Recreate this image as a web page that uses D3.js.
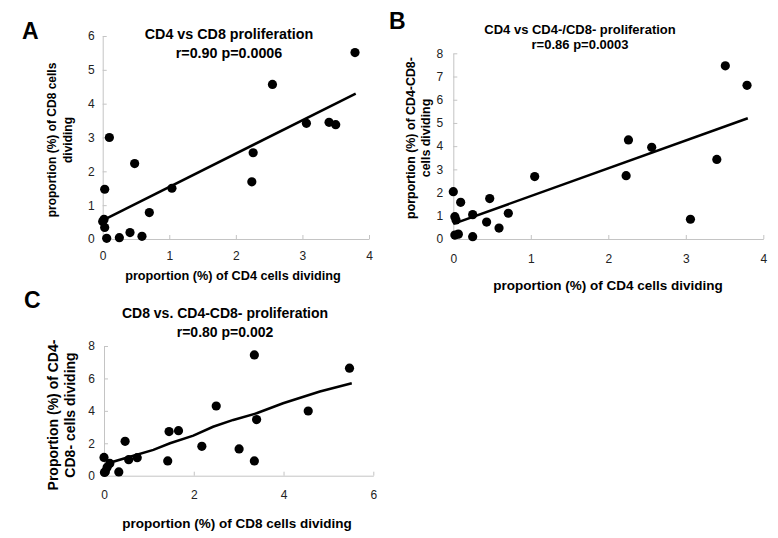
<!DOCTYPE html>
<html>
<head>
<meta charset="utf-8">
<script src="https://cdn.jsdelivr.net/npm/d3@7"></script>
<style>
  body { margin: 0; background: #fff; }
  svg { font-family: "Liberation Sans", Arial, sans-serif; }
  .axis path, .axis line { stroke: #c4c4c4; }
  .axis text { font-size: 12px; fill: #222; }
</style>
</head>
<body>
<svg class="canvas" width="778" height="538"></svg>
<script>
// panel A: CD4 vs CD8
const aCd4 = [3.79, 2.55, 3.06, 3.40, 3.50, 2.26, 2.24, 1.04, 0.70, 0.48, 0.10, 0.03, 0.02, 0.00, 0.03, 0.06, 0.25, 0.41, 0.59];
const aCd8 = [5.51, 4.57, 3.42, 3.45, 3.38, 2.55, 1.69, 1.50, 0.78, 2.23, 3.00, 1.47, 0.58, 0.52, 0.34, 0.02, 0.04, 0.19, 0.08];
const aTrendX = [0, 3.8];
const aTrendY = [0.55, 4.3];

// panel B: CD4 vs CD4-/CD8-
const bCd4 = [0.00, 0.02, 0.035, 0.02, 0.065, 0.095, 0.25, 0.25, 0.43, 0.47, 0.59, 0.71, 1.05, 2.23, 2.26, 2.56, 3.06, 3.40, 3.51, 3.79];
const bDn = [2.04, 0.96, 0.82, 0.17, 0.21, 1.58, 1.05, 0.10, 0.73, 1.74, 0.47, 1.11, 2.69, 2.73, 4.27, 3.95, 0.85, 3.43, 7.46, 6.62];
const bTrendX = [0, 3.8];
const bTrendY = [0.65, 5.2];

// panel C: CD8 vs CD4-CD8-
const cCd8 = [0.00, 0.01, 0.03, 0.07, 0.13, 0.33, 0.47, 0.55, 0.74, 1.42, 1.45, 1.66, 2.18, 2.50, 3.01, 3.35, 3.35, 3.40, 4.55, 5.47];
const cDn = [1.13, 0.20, 0.25, 0.52, 0.76, 0.23, 2.12, 0.99, 1.11, 0.91, 2.72, 2.78, 1.81, 4.30, 1.65, 0.91, 7.45, 3.46, 3.99, 6.63];
const cTrendX = [0, 0.13, 0.54, 1.10, 1.47, 1.99, 2.43, 2.88, 3.40, 3.99, 4.81, 5.52];
const cTrendY = [0.52, 0.8, 1.14, 1.59, 2.0, 2.47, 3.02, 3.44, 3.85, 4.47, 5.19, 5.70];

// tick values
const aXTicks = [0, 1, 2, 3, 4], aYTicks = [0, 1, 2, 3, 4, 5, 6];
const bXTicks = [0, 1, 2, 3, 4], bYTicks = [0, 1, 2, 3, 4, 5, 6, 7, 8];
const cXTicks = [0, 2, 4, 6], cYTicks = [0, 2, 4, 6, 8];

const svg = d3.select('.canvas');

const panels = [
  {
    letter: 'A', letterPos: [22, 39],
    xs: aCd4, ys: aCd8, tx: aTrendX, ty: aTrendY,
    xDomain: [0, 4], yDomain: [0, 6], xTicks: aXTicks, yTicks: aYTicks,
    x0: 102.7, x1: 369, y0: 239, y1: 36,
    xPad: 12, yPad: 8,
    title: ['CD4 vs CD8 proliferation', 'r=0.90 p=0.0006'], titleX: 229, titleY: [39, 58], titleSize: 14.3,
    xLabel: 'proportion (%) of CD4 cells dividing', xLabelPos: [233, 280], xLabelSize: 12.7,
    yLabel: ['proportion (%) of CD8 cells', 'dividing'], yLabelX: [56, 72], yLabelY: 140, yLabelSize: 12
  },
  {
    letter: 'B', letterPos: [389, 29],
    xs: bCd4, ys: bDn, tx: bTrendX, ty: bTrendY,
    xDomain: [0, 4], yDomain: [0, 8], xTicks: bXTicks, yTicks: bYTicks,
    x0: 453.3, x1: 763.3, y0: 239, y1: 53.3,
    xPad: 15, yPad: 10,
    title: ['CD4 vs CD4-/CD8- proliferation', 'r=0.86 p=0.0003'], titleX: 580, titleY: [34, 48.5], titleSize: 13,
    xLabel: 'proportion (%) of CD4 cells dividing', xLabelPos: [608, 290], xLabelSize: 13.5,
    yLabel: ['porportion (%) of CD4-CD8-', 'cells dividing'], yLabelX: [415, 430], yLabelY: 138, yLabelSize: 12.4
  },
  {
    letter: 'C', letterPos: [24, 308],
    xs: cCd8, ys: cDn, tx: cTrendX, ty: cTrendY,
    xDomain: [0, 6], yDomain: [0, 8], xTicks: cXTicks, yTicks: cYTicks,
    x0: 104, x1: 373.3, y0: 475.7, y1: 346,
    xPad: 15, yPad: 9,
    title: ['CD8 vs. CD4-CD8- proliferation', 'r=0.80 p=0.002'], titleX: 225, titleY: [318, 337], titleSize: 14,
    xLabel: 'proportion (%) of CD8 cells dividing', xLabelPos: [237, 528], xLabelSize: 13.5,
    yLabel: ['Proportion (%) of CD4-', 'CD8- cells dividing'], yLabelX: [58, 75], yLabelY: 415, yLabelSize: 14
  }
];

panels.forEach((p) => {
  const x = d3.scaleLinear().domain(p.xDomain).range([p.x0, p.x1]);
  const y = d3.scaleLinear().domain(p.yDomain).range([p.y0, p.y1]);
  const g = svg.append('g');

  // axes with small inside ticks
  g.append('g')
    .attr('class', 'axis')
    .attr('transform', `translate(0, ${p.y0})`)
    .call(d3.axisBottom(x).tickValues(p.xTicks).tickSizeInner(-4).tickSizeOuter(0).tickPadding(p.xPad).tickFormat(d3.format('d')));
  g.append('g')
    .attr('class', 'axis')
    .attr('transform', `translate(${p.x0}, 0)`)
    .call(d3.axisLeft(y).tickValues(p.yTicks).tickSizeInner(-4).tickSizeOuter(0).tickPadding(p.yPad).tickFormat(d3.format('d')));
  g.selectAll('.axis text').attr('font-family', null).attr('font-size', null);

  // trend line
  const line = d3.line().x((d) => x(d[0])).y((d) => y(d[1]));
  g.append('path')
    .datum(d3.zip(p.tx, p.ty))
    .attr('d', line)
    .attr('fill', 'none')
    .attr('stroke', '#000')
    .attr('stroke-width', 2.5);

  // points
  g.selectAll('circle')
    .data(d3.zip(p.xs, p.ys))
    .enter()
    .append('circle')
    .attr('cx', (d) => x(d[0]))
    .attr('cy', (d) => y(d[1]))
    .attr('r', 4.6)
    .attr('fill', '#000');

  // panel letter
  g.append('text')
    .attr('x', p.letterPos[0])
    .attr('y', p.letterPos[1])
    .style('font-size', '23px')
    .style('font-weight', 'bold')
    .text(p.letter);

  // title lines
  p.title.forEach((t, i) => {
    g.append('text')
      .attr('x', p.titleX)
      .attr('y', p.titleY[i])
      .attr('text-anchor', 'middle')
      .style('font-size', p.titleSize + 'px')
      .style('font-weight', 'bold')
      .text(t);
  });

  // x-axis title
  g.append('text')
    .attr('x', p.xLabelPos[0])
    .attr('y', p.xLabelPos[1])
    .attr('text-anchor', 'middle')
    .style('font-size', p.xLabelSize + 'px')
    .style('font-weight', 'bold')
    .text(p.xLabel);

  // y-axis title, two rotated lines
  p.yLabel.forEach((t, i) => {
    g.append('text')
      .attr('transform', `translate(${p.yLabelX[i]}, ${p.yLabelY}) rotate(-90)`)
      .attr('text-anchor', 'middle')
      .style('font-size', p.yLabelSize + 'px')
      .style('font-weight', 'bold')
      .text(t);
  });
});
</script>
</body>
</html>
